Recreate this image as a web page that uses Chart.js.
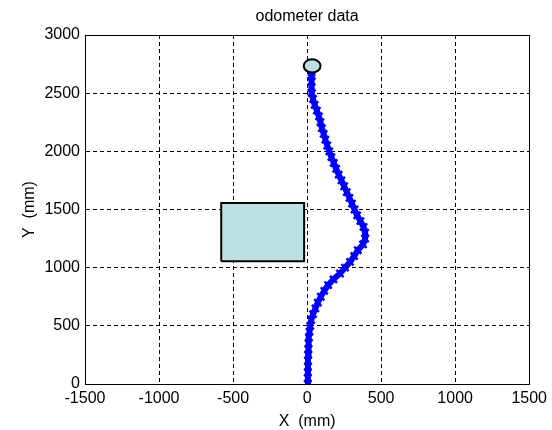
<!DOCTYPE html>
<html><head><meta charset="utf-8">
<script src="https://cdn.jsdelivr.net/npm/chart.js@4"></script>
<style>html,body{margin:0;padding:0;background:#fff;overflow:hidden}</style>
</head><body>
<canvas id="c" width="552" height="430"></canvas>
<script>
// odometer trajectory (mm)
const pathY = [0,50,100,150,200,250,300,350,400,450,500,550,600,650,700,750,800,850,900,950,
  1000,1050,1100,1150,1200,1250,1300,1350,1400,1450,1500,1550,1600,1650,1700,1750,1800,1850,1900,1950,
  2000,2050,2100,2150,2200,2250,2300,2350,2400,2450,2500,2550,2600,2650,2680];
const pathX = [5,5,5,6,6,7,8,10,12,16,21,28,40,56,72,92,116,142,178,222,
  256,290,318,342,378,392,392,381,360,338,320,303,286,268,250,232,213,196,180,164,
  150,136,123,112,100,90,80,66,51,40,32,30,30,30,30];
// obstacle rectangle (mm)
const obstacleX = [-580, -20];
const obstacleY = [1055, 1555];
// goal circle (mm)
const goalCenter = [34, 2734];
const goalRadius = 57;
// axes
const xTicks = [-1500,-1000,-500,0,500,1000,1500];
const yTicks = [0,500,1000,1500,2000,2500,3000];
const titleText = 'odometer data';
const xLabel = 'X  (mm)';
const yLabel = 'Y  (mm)';

const FONT = 'Liberation Sans, Arial, sans-serif';
Chart.defaults.color = '#000';
Chart.defaults.font.family = FONT;
Chart.defaults.font.size = 16;

const pathData = pathX.map((x, i) => ({x, y: pathY[i]}));
const rectData = [
  {x: obstacleX[0], y: obstacleY[0]}, {x: obstacleX[0], y: obstacleY[1]},
  {x: obstacleX[1], y: obstacleY[1]}, {x: obstacleX[1], y: obstacleY[0]},
  {x: obstacleX[0], y: obstacleY[0]}
];

const boxPlugin = {
  id: 'box',
  beforeDatasetsDraw(chart) {
    const a = chart.chartArea, ctx = chart.ctx;
    const l = Math.round(a.left) + 0.5, r = Math.round(a.right) + 0.5;
    const t = Math.round(a.top) + 0.5, b = Math.round(a.bottom) + 0.5;
    ctx.save();
    ctx.strokeStyle = '#000'; ctx.lineWidth = 1; ctx.setLineDash([]);
    ctx.strokeRect(l, t, r - l, b - t);
    ctx.restore();
  }
};
const goalPlugin = {
  id: 'goal',
  afterDatasetsDraw(chart) {
    const xs = chart.scales.x, ys = chart.scales.y, ctx = chart.ctx;
    const cx = xs.getPixelForValue(goalCenter[0]), cy = ys.getPixelForValue(goalCenter[1]);
    const rx = Math.abs(xs.getPixelForValue(goalCenter[0] + goalRadius) - cx);
    const ry = Math.abs(ys.getPixelForValue(goalCenter[1] + goalRadius) - cy);
    ctx.save();
    ctx.beginPath();
    ctx.ellipse(cx, cy, rx, ry, 0, 0, Math.PI * 2);
    ctx.fillStyle = 'rgb(188,224,228)';
    ctx.fill();
    ctx.lineWidth = 2; ctx.strokeStyle = '#000';
    ctx.stroke();
    ctx.restore();
  }
};

const plainTick = v => String(v);

new Chart(document.getElementById('c'), {
  type: 'scatter',
  data: {
    datasets: [
      {
        data: pathData, showLine: true, tension: 0,
        borderColor: '#0000ff', borderWidth: 6,
        pointStyle: 'crossRot', pointRadius: 5, pointBorderWidth: 2.5,
        pointBorderColor: '#0000ff', pointBackgroundColor: '#0000ff'
      },
      {
        data: rectData, showLine: true, tension: 0, fill: 'shape',
        borderColor: '#000', borderWidth: 2,
        backgroundColor: 'rgb(188,224,228)', pointRadius: 0
      }
    ]
  },
  options: {
    responsive: false, animation: false, devicePixelRatio: 1,
    layout: {padding: {left: 0, right: 22, top: 0, bottom: 0}},
    plugins: {
      legend: {display: false}, tooltip: {enabled: false}, title: {display: false}
    },
    scales: {
      x: {
        type: 'linear', min: -1500, max: 1500,
        afterBuildTicks: s => { s.ticks = xTicks.map(v => ({value: v})); },
        afterFit: s => { s.height = 46; },
        grid: {color: '#000', lineWidth: 1, drawTicks: false},
        border: {display: true, color: '#000', width: 1, dash: [4, 3]},
        ticks: {padding: 5, color: '#000', maxRotation: 0, autoSkip: false,
          callback: plainTick, font: {family: FONT, size: 16}},
        title: {display: true, text: xLabel, color: '#000',
          font: {family: FONT, size: 16}, padding: {top: 0, bottom: -1}}
      },
      xTop: {
        type: 'linear', position: 'top', min: -1500, max: 1500,
        afterFit: s => { s.height = 35; },
        grid: {display: false, drawTicks: false},
        border: {display: false},
        ticks: {display: false},
        title: {display: true, text: titleText, color: '#000',
          font: {family: FONT, size: 16}, padding: {top: 7, bottom: 0}}
      },
      y: {
        type: 'linear', min: 0, max: 3000,
        afterBuildTicks: s => { s.ticks = yTicks.map(v => ({value: v})); },
        afterFit: s => { s.width = 85; },
        grid: {color: '#000', lineWidth: 1, drawTicks: false},
        border: {display: true, color: '#000', width: 1, dash: [4, 3]},
        ticks: {padding: 5, color: '#000', autoSkip: false,
          callback: plainTick, font: {family: FONT, size: 16}},
        title: {display: true, text: yLabel, color: '#000',
          font: {family: FONT, size: 16}, padding: {top: 20, bottom: 0}}
      }
    }
  },
  plugins: [boxPlugin, goalPlugin]
});
</script>
</body></html>
